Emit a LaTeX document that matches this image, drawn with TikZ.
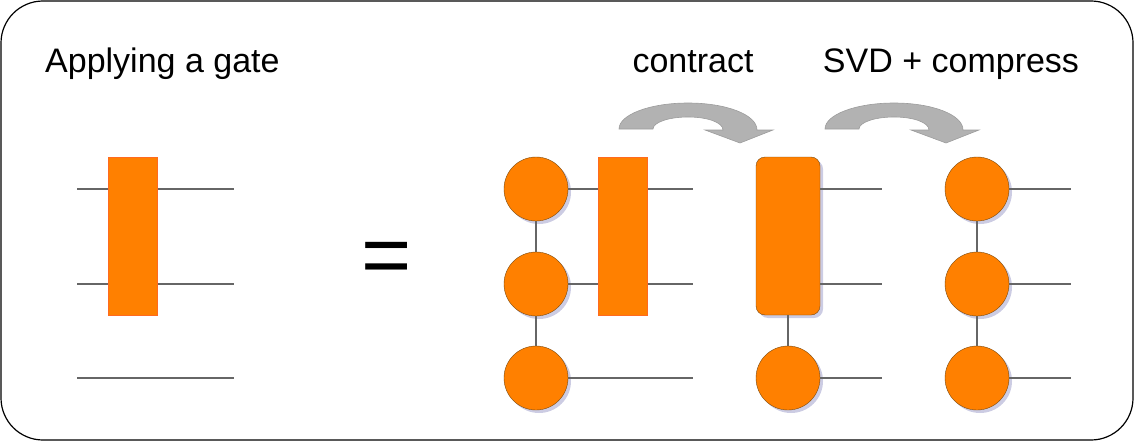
\documentclass[tikz,border=0pt]{standalone}
\usepackage{fontspec}
\setmainfont{Liberation Sans}
\usetikzlibrary{shadows}
\definecolor{gateorange}{HTML}{FF8000}
\definecolor{gateedge}{HTML}{FF6A20}
\definecolor{siteedge}{HTML}{7A4A10}
\definecolor{legcol}{HTML}{666666}
\definecolor{shadowcol}{HTML}{9A9AC8}
\definecolor{arrowgray}{HTML}{B2B2B2}
\definecolor{arrowedge}{HTML}{9C9C9C}
\tikzset{
  site/.style={circle,draw=siteedge,fill=gateorange,minimum size=64pt,inner sep=0pt,
    drop shadow={shadow xshift=3pt,shadow yshift=-3pt,fill=shadowcol,opacity=.5}},
  gate/.style={rectangle,draw=gateedge,fill=gateorange,minimum width=49pt,minimum height=158pt,inner sep=0pt},
  blob/.style={rectangle,rounded corners=9pt,draw=siteedge,fill=gateorange,minimum width=64pt,minimum height=158pt,inner sep=0pt,
    drop shadow={shadow xshift=3pt,shadow yshift=-3pt,fill=shadowcol,opacity=.5}},
  leg/.style={draw=legcol,line width=1.2pt},
  label/.style={inner sep=0pt,font=\fontsize{34}{40}\selectfont},
  bend arrow/.pic={
    \fill[arrowgray,draw=arrowedge,line width=.6pt]
      (-69,0) .. controls (-69,-14.4) and (-38.1,-26) .. (0,-26)
      .. controls (38.1,-26) and (69,-14.4) .. (69,1)
      -- (85,1) -- (52,14) -- (17,1) -- (35,1)
      .. controls (35,-6.6) and (19.3,-12) .. (0,-12)
      .. controls (-19.3,-12) and (-35,-6.6) .. (-35,0) -- cycle;
  }
}
\begin{document}
\begin{tikzpicture}[x=1pt,y=-1pt]
\useasboundingbox (0,0) rectangle (1134,441);
\draw[line width=1.2pt,rounded corners=42pt] (1,1) rectangle (1133,440);

% titles
\node[label,anchor=base west] (title) at (45,73) {Applying a gate};
\node[label,anchor=base] (contract) at (693,73) {contract};
\node[label,anchor=base] (svd) at (951,73) {SVD + compress};

% left: gate on three wires
\foreach \y/\n in {189/1,284/2,378/3} {
  \coordinate (l\n) at (77,\y);
  \coordinate (r\n) at (234,\y);
  \draw[leg] (l\n) -- (r\n);
}
\node[gate] (g0) at (133,236) {};

\node[inner sep=0pt,anchor=base,font=\fontsize{86}{90}\selectfont] (eq) at (387,284) {=};

% MPS with gate
\foreach \y/\n in {189/1,284/2,378/3} {
  \node[site] (a\n) at (536,\y) {};
  \coordinate (ae\n) at (693,\y);
  \draw[leg] (a\n) -- (ae\n);
}
\draw[leg] (a1) -- (a2);
\draw[leg] (a2) -- (a3);
\node[gate] (g1) at (623,236) {};

% contracted
\node[blob] (b12) at (788,236) {};
\node[site] (b3) at (788,378) {};
\foreach \y/\n in {189/1,284/2,378/3} {
  \coordinate (be\n) at (882,\y);
}
\draw[leg] (b12.east |- be1) -- (be1);
\draw[leg] (b12.east |- be2) -- (be2);
\draw[leg] (b3) -- (be3);
\draw[leg] (b12) -- (b3);

% after SVD
\foreach \y/\n in {189/1,284/2,378/3} {
  \node[site] (c\n) at (977,\y) {};
  \coordinate (ce\n) at (1071,\y);
  \draw[leg] (c\n) -- (ce\n);
}
\draw[leg] (c1) -- (c2);
\draw[leg] (c2) -- (c3);

% arrows
\pic at (688,129) {bend arrow};
\pic at (894,129) {bend arrow};
\end{tikzpicture}
\end{document}
